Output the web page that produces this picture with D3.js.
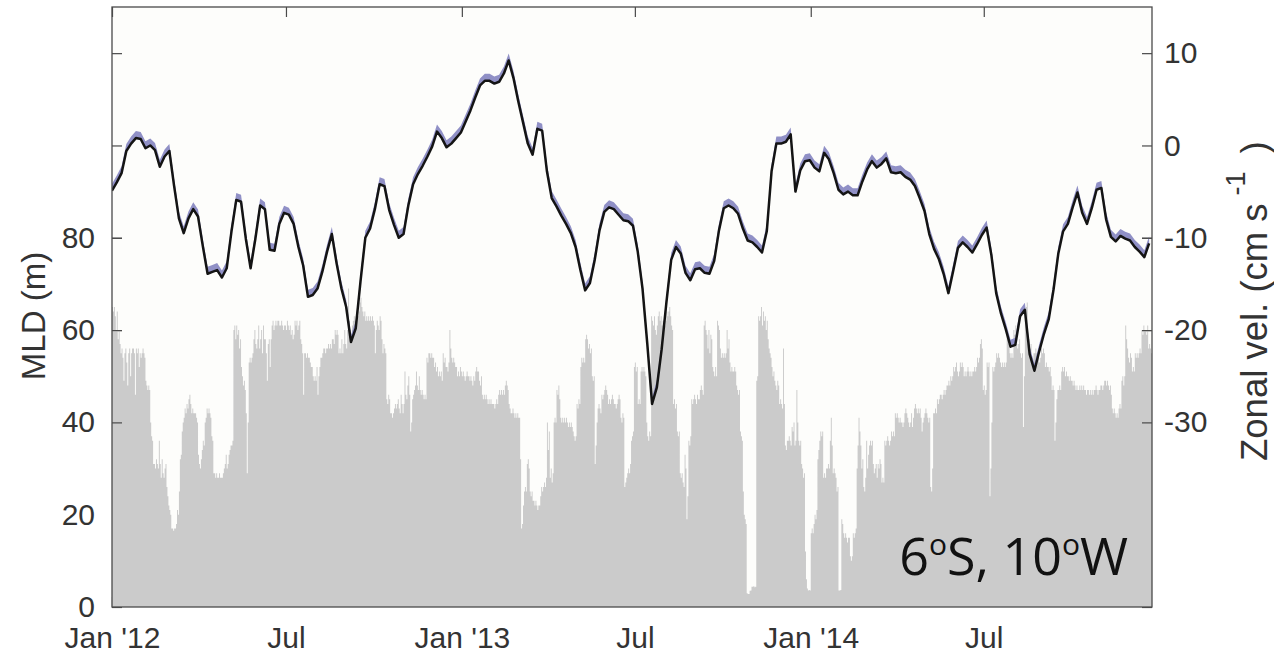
<!DOCTYPE html>
<html>
<head>
<meta charset="utf-8">
<script src="https://cdn.jsdelivr.net/npm/d3@7"></script>
<style>
  body { margin: 0; background: #ffffff; }
  svg { display: block; }
  .lbl { font-family: "Liberation Sans", Arial, Helvetica, sans-serif; fill: #333333; }
</style>
</head>
<body>
<svg id="chart" width="1274" height="656"></svg>
<script>
// ---- Time frame -------------------------------------------------------
const startDate = new Date(Date.UTC(2012, 0, 1));
const endDate = new Date(Date.UTC(2014, 11, 24));

// ---- Daily mixed-layer depth (m), in blocks starting at the given day index
const mldBlockStart = [0, 176, 364, 552, 741, 929];
const mldBlock1 = [
  65, 64, 65, 63, 60, 64, 58, 60, 57, 55,
  56, 54, 49, 55, 56, 53, 48, 55, 56, 50, 55, 56,
  56, 55, 46, 56, 55, 56, 52, 55, 54,
  55, 56, 55, 54, 49, 48, 47, 48, 47, 40, 37, 36,
  31, 31, 30, 32, 31, 30, 36, 31, 28, 32, 29, 28, 30, 31,
  26, 24, 22, 21, 20, 17, 17, 16.5, 17, 17, 18, 21, 20, 25,
  32, 33, 38, 40, 41, 43, 42, 44, 43, 45, 46, 44,
  42, 43, 42, 42, 42, 41, 40, 33, 31, 30, 32, 34,
  36, 35, 40, 41, 43, 42, 43, 42, 41, 37, 36,
  29, 29, 28, 29, 28, 28, 29, 28, 28, 28, 29, 30,
  31, 33, 30, 31, 33, 34, 35, 35, 36,
  60, 61, 58, 61, 59, 60, 56, 58, 52, 50, 48, 49, 47,
  42, 29, 40, 53, 54, 53, 54, 55, 58, 60, 57, 56, 58,
  61, 56, 58, 60, 55, 61, 58, 58, 55, 49, 57, 58, 52, 58,
  61, 62, 60, 61, 62, 61, 62, 62, 61
];
const mldBlock2 = [
  61, 62, 61, 60, 61, 61, 60, 62, 61, 60, 61, 59,
  60, 58, 59, 62, 61, 62, 60, 61, 62, 58, 57, 55, 46, 55,
  55, 54, 55, 54, 54, 53, 52, 52, 50, 49, 50, 49,
  52, 46, 50, 52, 54, 54, 55, 56, 56, 55, 56,
  56, 57, 56, 57, 56, 58, 58, 57, 60, 59, 60, 59,
  55, 56, 55, 58, 55, 57, 60, 57, 56, 60, 69, 62,
  60, 58, 61, 62, 63, 62, 63, 64, 63, 64, 66, 67, 65, 64,
  63, 64, 62, 63, 62, 63, 62, 63, 62, 63,
  62, 61, 55, 60, 62, 61, 60, 63, 62, 58, 55, 57, 56, 55,
  45, 44, 46, 45, 42, 42, 41, 42, 43, 44, 43, 44,
  45, 43, 42, 46, 44, 42, 44, 51, 46, 45, 48, 50, 46,
  38, 40, 45, 46, 47, 48, 51, 48, 47, 50, 47, 46, 47,
  46, 45, 46, 45, 54, 53, 55, 55, 54, 55, 54, 54, 52, 53,
  51, 52, 50, 51, 50, 51, 49, 55, 53, 54, 52, 52, 51, 53,
  60, 56, 54, 53, 54, 53, 52, 52, 50, 51, 50
];
const mldBlock3 = [
  52, 51, 50, 51, 50, 49, 50, 51, 50, 50, 49, 50, 49, 48, 50, 49,
  51, 52, 51, 51, 49, 48, 50, 46, 45, 46, 45, 46,
  45, 44, 45, 44, 45, 44, 44, 44, 43, 44, 45, 44,
  46, 47, 46, 47, 46, 47, 46, 48, 49, 48, 47,
  44, 43, 42, 42, 43, 42, 41, 42, 41, 42, 41, 41,
  32, 17, 18, 22, 25, 26, 25, 31, 32, 30,
  25, 24, 25, 23, 23, 22, 23, 22, 21, 22, 22, 24, 26, 25,
  26, 27, 26, 28, 40, 34, 38, 28, 30, 27, 29, 40, 41, 40,
  47, 46, 48, 45, 41, 40, 41, 40, 41, 40, 41,
  40, 39, 40, 39, 40, 39, 38, 37, 36, 37, 44, 43, 45, 44,
  52, 54, 53, 54, 53, 58, 59, 58, 56, 57, 55, 56, 50, 49, 50,
  31, 35, 40, 43, 44, 43, 42, 46, 45, 46, 47, 48, 47, 46,
  44, 45, 44, 45, 46, 45, 44, 44, 43, 44, 45, 46, 45,
  41, 40, 42, 41, 26, 27, 28, 29, 30, 29, 31, 36, 37, 38,
  52, 53, 51, 52, 44, 45
];
const mldBlock4 = [
  44, 51, 52, 51, 52, 51, 50, 40, 37, 36, 38, 37,
  63, 62, 61, 63, 60, 59, 61, 63, 64, 62, 63, 61, 62, 60, 61, 62,
  64, 63, 64, 65, 63, 61, 60, 44, 45, 43, 44, 38, 37, 38,
  29, 28, 29, 27, 26, 33, 30, 19, 24, 36, 35, 37,
  45, 44, 45, 46, 45, 44, 46, 45, 45, 47, 48, 47, 46,
  61, 62, 60, 59, 56, 60, 55, 59, 58, 52, 51, 50, 52, 50,
  62, 61, 60, 56, 54, 55, 54, 55, 54, 55, 60, 56, 58,
  53, 51, 52, 51, 51, 52, 51, 48, 47, 46, 47, 38, 37, 36,
  25, 20, 19, 18, 3, 2.8, 2.8, 3.5, 3.6, 4.4, 4.4, 4.5, 4.3, 4.4,
  49, 50, 63, 62, 63, 65, 61, 64, 62, 63, 60, 62,
  58, 56, 55, 54, 52, 50, 51, 49, 48, 47, 49, 48, 44, 45, 44, 43,
  56, 44, 35, 34, 36, 36, 37, 36, 35, 39, 38, 40, 35, 36, 47, 40,
  36, 35, 36, 31, 30, 28, 29, 12, 6, 4, 3.6, 3.7, 3.6,
  16, 17, 16, 18, 20, 19, 21, 32, 34, 36
];
const mldBlock5 = [
  38, 37, 38, 28, 29, 28, 30, 30, 31, 30, 36, 41, 35,
  29, 30, 29, 28, 25, 26, 3.6, 3.6, 3.7, 19, 18, 16, 15, 16,
  15, 14, 15, 15, 11, 10, 11, 16, 15, 16, 17,
  30, 35, 41, 38, 35, 30, 32, 26, 25, 28, 36, 30, 33, 35,
  36, 35, 36, 31, 29, 30, 31, 28, 31, 30, 32, 31, 27, 28, 27,
  36, 35, 36, 37, 36, 35, 36, 38, 37, 38, 37, 42, 41, 42,
  41, 40, 41, 40, 40, 39, 40, 42, 43, 42, 41, 40, 39, 40,
  42, 39, 41, 43, 44, 43, 42, 43, 42, 43, 41, 38, 40, 41,
  42, 43, 42, 41, 40, 41, 26, 25, 30, 42, 42, 43, 42,
  45, 44, 45, 46, 46, 45, 46, 47, 46, 47, 48, 48, 49, 48, 50, 49, 50,
  52, 51, 52, 53, 51, 50, 51, 53, 52, 53, 52, 50, 51, 50,
  51, 52, 51, 50, 51, 50, 51, 51, 52, 51, 52, 54, 53, 54, 57, 58, 56,
  47, 48, 46, 47, 53, 52, 53, 24, 30, 40, 52, 51, 52, 53, 55, 54, 55, 54
];
const mldBlock6 = [
  53, 52, 53, 52, 53, 52, 53, 59, 58, 57, 55, 54, 55, 54,
  60, 59, 61, 57, 56, 57, 58, 55, 54, 55, 39, 50, 64, 65, 66,
  57, 58, 56, 57, 54, 53, 55, 55, 56, 55, 54, 54, 53, 54,
  56, 55, 56, 55, 52, 53, 52, 52, 51, 52, 50, 47, 48, 47,
  36, 40, 45, 47, 47, 48, 47, 51, 52, 51, 52, 50, 51, 50,
  50, 49, 50, 49, 49, 48, 49, 48, 47, 48, 47, 47, 48, 47,
  48, 47, 48, 47, 47, 46, 47, 47, 46, 47, 46, 47, 46, 47,
  47, 48, 47, 46, 47, 47, 48, 48, 47, 48, 49, 49, 48, 49,
  48, 47, 48, 46, 43, 42, 43, 42, 41, 42, 41, 43, 44, 43,
  49, 50, 48, 50, 61, 58, 56, 54, 53, 55, 54, 51, 52, 51,
  55, 54, 55, 54, 55, 56, 55, 60, 59, 61, 60, 60, 59, 61,
  56, 57, 56, 55
];
const mldBlocks = [mldBlock1, mldBlock2, mldBlock3, mldBlock4, mldBlock5, mldBlock6];

// ---- Zonal velocity (cm/s), one sample every 5 days from startDate -------
const velStepDays = 5;
const velValues = [
  -4.9, -4.0, -3.0, -0.6, 0.2, 0.8, 0.7, -0.3, 0.0, -0.5,
  -2.3, -1.2, -0.6, -4.4, -7.9, -9.5, -7.9, -6.9, -7.7, -10.9,
  -13.9, -13.7, -13.5, -14.3, -13.3, -9.3, -5.9, -6.1, -10.1, -13.3,
  -10.1, -6.5, -6.9, -11.3, -11.4, -8.5, -7.3, -7.5, -8.5, -11.0,
  -13.0, -16.4, -16.2, -15.5, -13.7, -11.5, -9.6, -12.8, -15.5, -17.5,
  -21.3, -19.8, -14.7, -10.0, -9.0, -6.9, -4.2, -4.4, -7.0, -8.6,
  -10.0, -9.6, -6.5, -4.2, -3.1, -2.2, -1.2, -0.1, 1.5, 0.8,
  -0.2, 0.2, 0.8, 1.4, 2.6, 3.8, 5.2, 6.5, 7.0, 7.0,
  6.7, 6.9, 7.8, 9.2, 7.3, 4.8, 2.5, 0.2, -1.0, 1.8,
  1.6, -2.8, -5.7, -6.6, -7.6, -8.5, -9.5, -11.0, -13.5, -15.7,
  -14.9, -12.4, -9.2, -7.2, -6.7, -6.9, -7.5, -8.1, -8.2, -8.7,
  -11.5, -15.5, -21.5, -28.0, -26.2, -22.1, -17.0, -12.4, -11.0, -11.7,
  -13.8, -14.6, -13.4, -13.3, -13.8, -13.9, -12.5, -9.2, -6.8, -6.5,
  -6.8, -7.4, -9.0, -10.3, -10.5, -11.0, -11.6, -9.3, -2.8, 0.2,
  0.2, 0.4, 1.2, -5.0, -2.7, -1.7, -1.6, -2.4, -2.8, -0.8,
  -1.5, -3.0, -4.8, -5.3, -5.0, -5.4, -5.4, -3.9, -2.6, -1.7,
  -2.4, -2.0, -1.4, -2.9, -3.0, -2.9, -3.4, -3.7, -4.4, -5.7,
  -7.1, -9.6, -11.2, -12.3, -13.9, -16.0, -13.6, -11.1, -10.5, -11.0,
  -11.6, -10.7, -9.7, -8.9, -11.9, -16.0, -18.2, -19.9, -21.8, -21.6,
  -18.5, -17.8, -22.6, -24.4, -22.3, -20.4, -18.8, -15.6, -11.7, -9.3,
  -8.5, -6.7, -5.1, -7.3, -8.5, -6.8, -4.8, -4.6, -8.0, -9.9,
  -10.4, -9.8, -10.1, -10.3, -11.0, -11.5, -12.1, -10.6
];

// ---- Axis ticks --------------------------------------------------------
const mldTicks = [0, 20, 40, 60, 80];
const velTicks = [-30, -20, -10, 0, 10];
const dateTickStrings = ["2012-01-01", "2012-07-01", "2013-01-01", "2013-07-01", "2014-01-01", "2014-07-01"];
const dateTickLabels = ["Jan '12", "Jul", "Jan '13", "Jul", "Jan '14", "Jul"];

// ---- Layout --------------------------------------------------------------
const M = { left: 112, right: 1152, top: 7, bottom: 607 };
const svg = d3.select("#chart");

const x = d3.scaleUtc().domain([startDate, endDate]).range([M.left, M.right]);
const yL = d3.scaleLinear().domain([0, 130]).range([M.bottom, M.top]);
const yR = d3.scaleLinear().domain([-50, 15]).range([M.bottom, M.top]);

const dateTicks = dateTickStrings.map(s => new Date(s + "T00:00:00Z"));

svg.append("defs").append("clipPath").attr("id", "plotClip")
  .append("rect")
  .attr("x", M.left).attr("y", M.top)
  .attr("width", M.right - M.left).attr("height", M.bottom - M.top);

// plot background
svg.append("rect")
  .attr("x", M.left).attr("y", M.top)
  .attr("width", M.right - M.left).attr("height", M.bottom - M.top)
  .attr("fill", "#fdfdfb");

function styleAxis(g, keepLabels) {
  g.select(".domain").remove();
  g.selectAll(".tick line").attr("stroke", "#4a4a4a").attr("stroke-width", 1.2);
  g.selectAll(".tick text").attr("font-size", 30).attr("fill", "#333333")
    .style("font-family", "'Liberation Sans', Arial, Helvetica, sans-serif");
  if (!keepLabels) g.selectAll(".tick text").remove();
}
const plain = d => String(d);

// MLD axes sit beneath the bars
svg.append("g").attr("transform", `translate(${M.left},0)`)
  .call(d3.axisLeft(yL).tickValues(mldTicks).tickFormat(plain).tickSizeInner(-10).tickSizeOuter(0).tickPadding(17))
  .call(g => styleAxis(g, true));
svg.append("g").attr("transform", `translate(${M.right},0)`)
  .call(d3.axisRight(yL).tickValues(mldTicks).tickSizeInner(-10).tickSizeOuter(0))
  .call(g => styleAxis(g, false));
svg.append("g").attr("transform", `translate(0,${M.bottom})`)
  .call(d3.axisBottom(x).tickValues(dateTicks).tickFormat((d, i) => dateTickLabels[i])
    .tickSizeInner(-10).tickSizeOuter(0).tickPadding(20))
  .call(g => styleAxis(g, true));

// daily MLD as contiguous one-day bars (drawn as a single stepped shape)
const bars = [];
mldBlocks.forEach((block, b) => {
  block.forEach((v, j) => {
    bars.push({ day: mldBlockStart[b] + j, value: v });
  });
});
bars.sort((a, b) => a.day - b.day);
const barEdges = bars.map(d => ({ date: d3.utcDay.offset(startDate, d.day), value: d.value }));
barEdges.push({ date: d3.utcDay.offset(startDate, bars[bars.length - 1].day + 1), value: bars[bars.length - 1].value });

const plot = svg.append("g").attr("clip-path", "url(#plotClip)");
plot.append("path").datum(barEdges)
  .attr("d", d3.area().curve(d3.curveStepAfter)
    .x(d => x(d.date)).y0(yL(0)).y1(d => yL(d.value)))
  .attr("fill", "#cbcbcb");

// velocity series with its envelope
const vel = velValues.map((v, i) => ({ date: d3.utcDay.offset(startDate, i * velStepDays), value: v }));

plot.append("path").datum(vel)
  .attr("d", d3.area().x(d => x(d.date)).y0(d => yR(d.value) + 0.5).y1(d => yR(d.value) - 7))
  .attr("fill", "#9090c6");
plot.append("path").datum(vel)
  .attr("d", d3.line().x(d => x(d.date)).y(d => yR(d.value)))
  .attr("fill", "none").attr("stroke", "#141414").attr("stroke-width", 2.5)
  .attr("stroke-linejoin", "round");

// velocity axes and top date ticks drawn over the data
svg.append("g").attr("transform", `translate(${M.right},0)`)
  .call(d3.axisRight(yR).tickValues(velTicks).tickFormat(plain).tickSizeInner(-10).tickSizeOuter(0).tickPadding(12))
  .call(g => styleAxis(g, true));
svg.append("g").attr("transform", `translate(${M.left},0)`)
  .call(d3.axisLeft(yR).tickValues(velTicks).tickSizeInner(-10).tickSizeOuter(0))
  .call(g => styleAxis(g, false));
svg.append("g").attr("transform", `translate(0,${M.top})`)
  .call(d3.axisTop(x).tickValues(dateTicks).tickSizeInner(-10).tickSizeOuter(0))
  .call(g => styleAxis(g, false));

// frame
svg.append("rect")
  .attr("x", M.left).attr("y", M.top)
  .attr("width", M.right - M.left).attr("height", M.bottom - M.top)
  .attr("fill", "none").attr("stroke", "#4a4a4a").attr("stroke-width", 1.3);

// axis titles
svg.append("text").attr("class", "lbl")
  .attr("transform", `translate(45,${(M.top + M.bottom) / 2 + 9}) rotate(-90)`)
  .attr("text-anchor", "middle").attr("font-size", 33)
  .text("MLD (m)");

const rt = svg.append("text").attr("class", "lbl")
  .attr("transform", `translate(1267,461) rotate(-90)`)
  .attr("text-anchor", "start").attr("font-size", 36.5);
rt.append("tspan").text("Zonal vel. (cm s");
rt.append("tspan").attr("dx", 8).attr("dy", -22).attr("font-size", 27).text("-1");
rt.append("tspan").attr("dx", 18).attr("dy", 22).text(")");

// location label
const loc = svg.append("text")
  .attr("x", 1128).attr("y", 575)
  .attr("text-anchor", "end")
  .attr("font-size", 52).attr("fill", "#111111")
  .style("font-family", "'Open Sans', 'Noto Sans', sans-serif");
loc.append("tspan").text("6");
loc.append("tspan").attr("dy", -20).attr("font-size", 30).text("o");
loc.append("tspan").attr("dy", 20).text("S, 10");
loc.append("tspan").attr("dy", -20).attr("font-size", 30).text("o");
loc.append("tspan").attr("dy", 20).text("W");
</script>
</body>
</html>
